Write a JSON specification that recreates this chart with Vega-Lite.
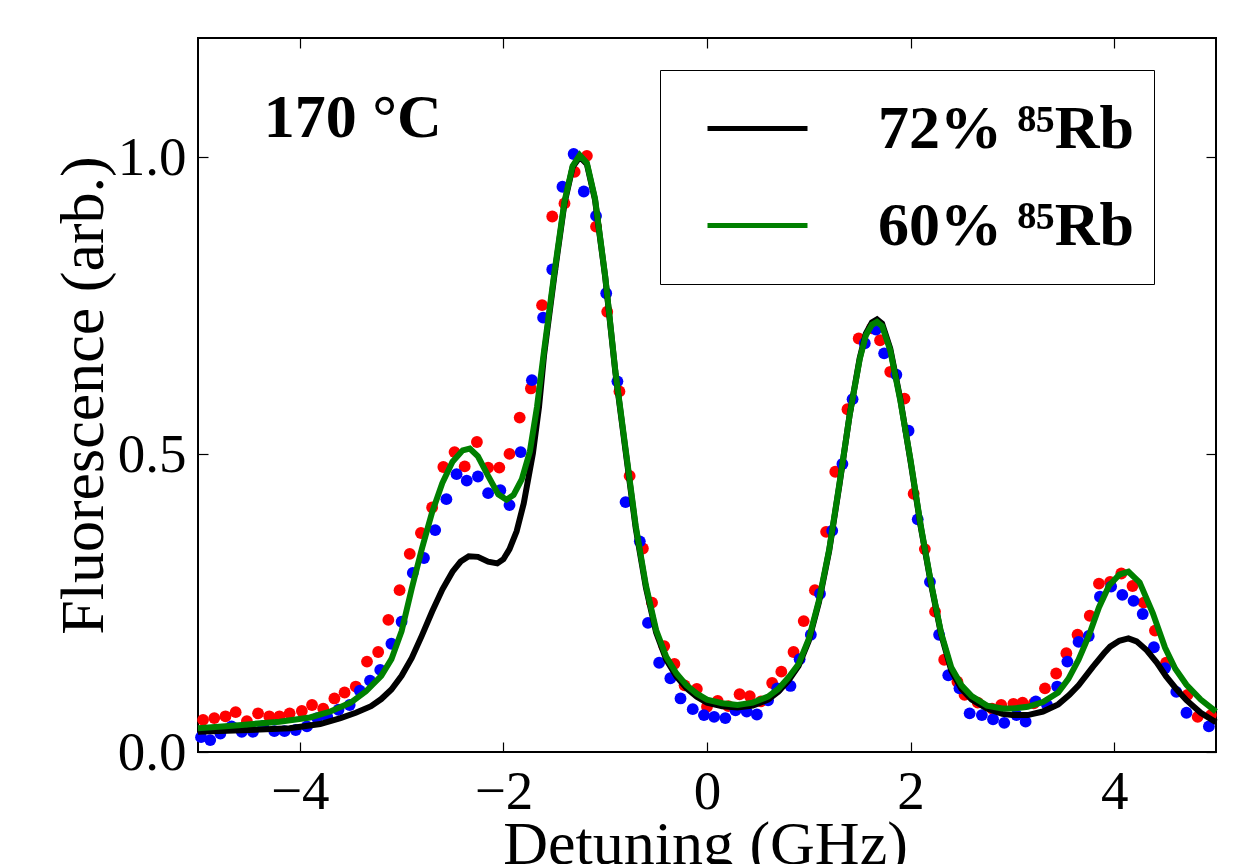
{
  "$schema": "https://vega.github.io/schema/vega-lite/v6.json",
  "width": 1018,
  "height": 714,
  "autosize": {"type": "none"},
  "padding": {"left": 198, "top": 38, "right": 26, "bottom": 112},
  "background": "white",
  "config": {
    "view": {"stroke": "black", "strokeWidth": 2},
    "axis": {
      "grid": false,
      "domain": false,
      "tickColor": "black",
      "tickWidth": 1.2,
      "tickSize": -10,
      "labelFont": "Liberation Serif",
      "labelFontSize": 55,
      "labelColor": "black",
      "titleFont": "Liberation Serif",
      "titleFontSize": 62,
      "titleFontWeight": "normal",
      "titleColor": "black"
    }
  },
  "resolve": {"scale": {"x": "independent", "y": "independent"}},
  "datasets": {
    "points": [
      {"m": "m1", "x": -4.95, "y": 0.054}, {"m": "m1", "x": -4.84, "y": 0.057}, {"m": "m1", "x": -4.73, "y": 0.06}, {"m": "m1", "x": -4.63, "y": 0.067},
      {"m": "m1", "x": -4.52, "y": 0.052}, {"m": "m1", "x": -4.41, "y": 0.065}, {"m": "m1", "x": -4.3, "y": 0.06}, {"m": "m1", "x": -4.2, "y": 0.06},
      {"m": "m1", "x": -4.1, "y": 0.065}, {"m": "m1", "x": -3.98, "y": 0.069}, {"m": "m1", "x": -3.88, "y": 0.079}, {"m": "m1", "x": -3.77, "y": 0.073},
      {"m": "m1", "x": -3.66, "y": 0.09}, {"m": "m1", "x": -3.56, "y": 0.1}, {"m": "m1", "x": -3.45, "y": 0.11}, {"m": "m1", "x": -3.34, "y": 0.152},
      {"m": "m1", "x": -3.23, "y": 0.168}, {"m": "m1", "x": -3.13, "y": 0.222}, {"m": "m1", "x": -3.02, "y": 0.272}, {"m": "m1", "x": -2.92, "y": 0.333},
      {"m": "m1", "x": -2.81, "y": 0.368}, {"m": "m1", "x": -2.7, "y": 0.411}, {"m": "m1", "x": -2.59, "y": 0.479}, {"m": "m1", "x": -2.48, "y": 0.504},
      {"m": "m1", "x": -2.38, "y": 0.48}, {"m": "m1", "x": -2.26, "y": 0.521}, {"m": "m1", "x": -2.15, "y": 0.478}, {"m": "m1", "x": -2.04, "y": 0.478},
      {"m": "m1", "x": -1.94, "y": 0.501}, {"m": "m1", "x": -1.84, "y": 0.562}, {"m": "m1", "x": -1.73, "y": 0.611}, {"m": "m1", "x": -1.62, "y": 0.751},
      {"m": "m1", "x": -1.52, "y": 0.9}, {"m": "m1", "x": -1.4, "y": 0.922}, {"m": "m1", "x": -1.3, "y": 0.975}, {"m": "m1", "x": -1.18, "y": 1.002},
      {"m": "m1", "x": -1.09, "y": 0.883}, {"m": "m1", "x": -0.98, "y": 0.74}, {"m": "m1", "x": -0.86, "y": 0.606}, {"m": "m1", "x": -0.76, "y": 0.464},
      {"m": "m1", "x": -0.63, "y": 0.342}, {"m": "m1", "x": -0.54, "y": 0.251}, {"m": "m1", "x": -0.42, "y": 0.178}, {"m": "m1", "x": -0.32, "y": 0.148},
      {"m": "m1", "x": -0.22, "y": 0.112}, {"m": "m1", "x": -0.1, "y": 0.106}, {"m": "m1", "x": 0.0, "y": 0.076}, {"m": "m1", "x": 0.105, "y": 0.086},
      {"m": "m1", "x": 0.21, "y": 0.077}, {"m": "m1", "x": 0.32, "y": 0.097}, {"m": "m1", "x": 0.42, "y": 0.094}, {"m": "m1", "x": 0.53, "y": 0.085},
      {"m": "m1", "x": 0.64, "y": 0.116}, {"m": "m1", "x": 0.73, "y": 0.135}, {"m": "m1", "x": 0.85, "y": 0.168}, {"m": "m1", "x": 0.95, "y": 0.22},
      {"m": "m1", "x": 1.06, "y": 0.272}, {"m": "m1", "x": 1.17, "y": 0.37}, {"m": "m1", "x": 1.26, "y": 0.471}, {"m": "m1", "x": 1.38, "y": 0.576},
      {"m": "m1", "x": 1.49, "y": 0.695}, {"m": "m1", "x": 1.62, "y": 0.712}, {"m": "m1", "x": 1.7, "y": 0.692}, {"m": "m1", "x": 1.8, "y": 0.639},
      {"m": "m1", "x": 1.94, "y": 0.594}, {"m": "m1", "x": 2.03, "y": 0.434}, {"m": "m1", "x": 2.14, "y": 0.341}, {"m": "m1", "x": 2.24, "y": 0.236},
      {"m": "m1", "x": 2.33, "y": 0.155}, {"m": "m1", "x": 2.46, "y": 0.118}, {"m": "m1", "x": 2.53, "y": 0.096}, {"m": "m1", "x": 2.66, "y": 0.083},
      {"m": "m1", "x": 2.8, "y": 0.073}, {"m": "m1", "x": 2.89, "y": 0.079}, {"m": "m1", "x": 3.01, "y": 0.081}, {"m": "m1", "x": 3.1, "y": 0.083},
      {"m": "m1", "x": 3.21, "y": 0.082}, {"m": "m1", "x": 3.32, "y": 0.107}, {"m": "m1", "x": 3.43, "y": 0.132}, {"m": "m1", "x": 3.53, "y": 0.166},
      {"m": "m1", "x": 3.64, "y": 0.197}, {"m": "m1", "x": 3.76, "y": 0.229}, {"m": "m1", "x": 3.85, "y": 0.283}, {"m": "m1", "x": 3.96, "y": 0.286},
      {"m": "m1", "x": 4.07, "y": 0.3}, {"m": "m1", "x": 4.18, "y": 0.279}, {"m": "m1", "x": 4.29, "y": 0.251}, {"m": "m1", "x": 4.4, "y": 0.204},
      {"m": "m1", "x": 4.51, "y": 0.15}, {"m": "m1", "x": 4.72, "y": 0.096}, {"m": "m1", "x": 4.82, "y": 0.059}, {"m": "m1", "x": 4.95, "y": 0.062},

      {"m": "m2", "x": -4.97, "y": 0.025}, {"m": "m2", "x": -4.88, "y": 0.02}, {"m": "m2", "x": -4.78, "y": 0.031}, {"m": "m2", "x": -4.67, "y": 0.043},
      {"m": "m2", "x": -4.57, "y": 0.034}, {"m": "m2", "x": -4.46, "y": 0.034}, {"m": "m2", "x": -4.36, "y": 0.044}, {"m": "m2", "x": -4.25, "y": 0.035},
      {"m": "m2", "x": -4.15, "y": 0.035}, {"m": "m2", "x": -4.04, "y": 0.037}, {"m": "m2", "x": -3.93, "y": 0.043}, {"m": "m2", "x": -3.83, "y": 0.057},
      {"m": "m2", "x": -3.73, "y": 0.059}, {"m": "m2", "x": -3.62, "y": 0.071}, {"m": "m2", "x": -3.51, "y": 0.079}, {"m": "m2", "x": -3.41, "y": 0.103},
      {"m": "m2", "x": -3.31, "y": 0.12}, {"m": "m2", "x": -3.21, "y": 0.138}, {"m": "m2", "x": -3.1, "y": 0.182}, {"m": "m2", "x": -3.0, "y": 0.219},
      {"m": "m2", "x": -2.89, "y": 0.301}, {"m": "m2", "x": -2.78, "y": 0.326}, {"m": "m2", "x": -2.67, "y": 0.373}, {"m": "m2", "x": -2.56, "y": 0.425},
      {"m": "m2", "x": -2.46, "y": 0.467}, {"m": "m2", "x": -2.36, "y": 0.456}, {"m": "m2", "x": -2.25, "y": 0.463}, {"m": "m2", "x": -2.15, "y": 0.435},
      {"m": "m2", "x": -2.03, "y": 0.44}, {"m": "m2", "x": -1.94, "y": 0.415}, {"m": "m2", "x": -1.83, "y": 0.504}, {"m": "m2", "x": -1.72, "y": 0.625},
      {"m": "m2", "x": -1.61, "y": 0.73}, {"m": "m2", "x": -1.52, "y": 0.811}, {"m": "m2", "x": -1.42, "y": 0.95}, {"m": "m2", "x": -1.31, "y": 1.005},
      {"m": "m2", "x": -1.21, "y": 0.942}, {"m": "m2", "x": -1.09, "y": 0.901}, {"m": "m2", "x": -0.99, "y": 0.771}, {"m": "m2", "x": -0.88, "y": 0.623},
      {"m": "m2", "x": -0.8, "y": 0.42}, {"m": "m2", "x": -0.66, "y": 0.354}, {"m": "m2", "x": -0.58, "y": 0.217}, {"m": "m2", "x": -0.47, "y": 0.15},
      {"m": "m2", "x": -0.36, "y": 0.124}, {"m": "m2", "x": -0.26, "y": 0.09}, {"m": "m2", "x": -0.14, "y": 0.072}, {"m": "m2", "x": -0.03, "y": 0.062},
      {"m": "m2", "x": 0.07, "y": 0.059}, {"m": "m2", "x": 0.18, "y": 0.057}, {"m": "m2", "x": 0.28, "y": 0.07}, {"m": "m2", "x": 0.39, "y": 0.068},
      {"m": "m2", "x": 0.49, "y": 0.063}, {"m": "m2", "x": 0.6, "y": 0.087}, {"m": "m2", "x": 0.69, "y": 0.107}, {"m": "m2", "x": 0.82, "y": 0.111},
      {"m": "m2", "x": 0.91, "y": 0.156}, {"m": "m2", "x": 1.02, "y": 0.197}, {"m": "m2", "x": 1.11, "y": 0.266}, {"m": "m2", "x": 1.23, "y": 0.372},
      {"m": "m2", "x": 1.33, "y": 0.484}, {"m": "m2", "x": 1.43, "y": 0.593}, {"m": "m2", "x": 1.55, "y": 0.687}, {"m": "m2", "x": 1.66, "y": 0.71},
      {"m": "m2", "x": 1.74, "y": 0.67}, {"m": "m2", "x": 1.86, "y": 0.634}, {"m": "m2", "x": 1.98, "y": 0.54}, {"m": "m2", "x": 2.07, "y": 0.391},
      {"m": "m2", "x": 2.19, "y": 0.286}, {"m": "m2", "x": 2.28, "y": 0.197}, {"m": "m2", "x": 2.37, "y": 0.129}, {"m": "m2", "x": 2.48, "y": 0.107},
      {"m": "m2", "x": 2.58, "y": 0.065}, {"m": "m2", "x": 2.7, "y": 0.062}, {"m": "m2", "x": 2.81, "y": 0.055}, {"m": "m2", "x": 2.92, "y": 0.049},
      {"m": "m2", "x": 3.04, "y": 0.062}, {"m": "m2", "x": 3.13, "y": 0.051}, {"m": "m2", "x": 3.23, "y": 0.085}, {"m": "m2", "x": 3.34, "y": 0.079},
      {"m": "m2", "x": 3.44, "y": 0.11}, {"m": "m2", "x": 3.54, "y": 0.152}, {"m": "m2", "x": 3.65, "y": 0.185}, {"m": "m2", "x": 3.75, "y": 0.195},
      {"m": "m2", "x": 3.86, "y": 0.261}, {"m": "m2", "x": 3.97, "y": 0.278}, {"m": "m2", "x": 4.08, "y": 0.264}, {"m": "m2", "x": 4.19, "y": 0.254},
      {"m": "m2", "x": 4.28, "y": 0.232}, {"m": "m2", "x": 4.39, "y": 0.176}, {"m": "m2", "x": 4.5, "y": 0.141}, {"m": "m2", "x": 4.61, "y": 0.101},
      {"m": "m2", "x": 4.71, "y": 0.066}, {"m": "m2", "x": 4.93, "y": 0.043}
    ],
    "black": [
      {"series": "72% ⁸⁵Rb", "x": -5.0, "y": 0.034}, {"series": "72% ⁸⁵Rb", "x": -4.5, "y": 0.037}, {"series": "72% ⁸⁵Rb", "x": -4.1, "y": 0.04},
      {"series": "72% ⁸⁵Rb", "x": -3.8, "y": 0.047}, {"series": "72% ⁸⁵Rb", "x": -3.6, "y": 0.057}, {"series": "72% ⁸⁵Rb", "x": -3.45, "y": 0.066},
      {"series": "72% ⁸⁵Rb", "x": -3.3, "y": 0.077}, {"series": "72% ⁸⁵Rb", "x": -3.2, "y": 0.089}, {"series": "72% ⁸⁵Rb", "x": -3.1, "y": 0.105},
      {"series": "72% ⁸⁵Rb", "x": -3.0, "y": 0.128}, {"series": "72% ⁸⁵Rb", "x": -2.9, "y": 0.158}, {"series": "72% ⁸⁵Rb", "x": -2.8, "y": 0.196},
      {"series": "72% ⁸⁵Rb", "x": -2.7, "y": 0.236}, {"series": "72% ⁸⁵Rb", "x": -2.6, "y": 0.273}, {"series": "72% ⁸⁵Rb", "x": -2.5, "y": 0.303},
      {"series": "72% ⁸⁵Rb", "x": -2.42, "y": 0.32}, {"series": "72% ⁸⁵Rb", "x": -2.34, "y": 0.329}, {"series": "72% ⁸⁵Rb", "x": -2.25, "y": 0.328},
      {"series": "72% ⁸⁵Rb", "x": -2.15, "y": 0.32}, {"series": "72% ⁸⁵Rb", "x": -2.06, "y": 0.317}, {"series": "72% ⁸⁵Rb", "x": -2.0, "y": 0.324},
      {"series": "72% ⁸⁵Rb", "x": -1.94, "y": 0.341}, {"series": "72% ⁸⁵Rb", "x": -1.87, "y": 0.371}, {"series": "72% ⁸⁵Rb", "x": -1.8, "y": 0.418},
      {"series": "72% ⁸⁵Rb", "x": -1.71, "y": 0.502}, {"series": "72% ⁸⁵Rb", "x": -1.65, "y": 0.58}, {"series": "72% ⁸⁵Rb", "x": -1.6, "y": 0.668},
      {"series": "72% ⁸⁵Rb", "x": -1.5, "y": 0.8}, {"series": "72% ⁸⁵Rb", "x": -1.4, "y": 0.922}, {"series": "72% ⁸⁵Rb", "x": -1.32, "y": 0.983},
      {"series": "72% ⁸⁵Rb", "x": -1.25, "y": 1.0}, {"series": "72% ⁸⁵Rb", "x": -1.18, "y": 0.988}, {"series": "72% ⁸⁵Rb", "x": -1.1, "y": 0.928},
      {"series": "72% ⁸⁵Rb", "x": -1.0, "y": 0.798}, {"series": "72% ⁸⁵Rb", "x": -0.9, "y": 0.638}, {"series": "72% ⁸⁵Rb", "x": -0.8, "y": 0.506},
      {"series": "72% ⁸⁵Rb", "x": -0.7, "y": 0.376}, {"series": "72% ⁸⁵Rb", "x": -0.6, "y": 0.276}, {"series": "72% ⁸⁵Rb", "x": -0.5, "y": 0.201},
      {"series": "72% ⁸⁵Rb", "x": -0.4, "y": 0.155}, {"series": "72% ⁸⁵Rb", "x": -0.3, "y": 0.127}, {"series": "72% ⁸⁵Rb", "x": -0.2, "y": 0.107},
      {"series": "72% ⁸⁵Rb", "x": -0.1, "y": 0.093}, {"series": "72% ⁸⁵Rb", "x": 0.0, "y": 0.083}, {"series": "72% ⁸⁵Rb", "x": 0.15, "y": 0.077},
      {"series": "72% ⁸⁵Rb", "x": 0.3, "y": 0.075}, {"series": "72% ⁸⁵Rb", "x": 0.45, "y": 0.078}, {"series": "72% ⁸⁵Rb", "x": 0.6, "y": 0.088},
      {"series": "72% ⁸⁵Rb", "x": 0.7, "y": 0.101}, {"series": "72% ⁸⁵Rb", "x": 0.8, "y": 0.12}, {"series": "72% ⁸⁵Rb", "x": 0.9, "y": 0.145},
      {"series": "72% ⁸⁵Rb", "x": 1.0, "y": 0.187}, {"series": "72% ⁸⁵Rb", "x": 1.1, "y": 0.252}, {"series": "72% ⁸⁵Rb", "x": 1.2, "y": 0.338},
      {"series": "72% ⁸⁵Rb", "x": 1.3, "y": 0.448}, {"series": "72% ⁸⁵Rb", "x": 1.4, "y": 0.565}, {"series": "72% ⁸⁵Rb", "x": 1.5, "y": 0.662},
      {"series": "72% ⁸⁵Rb", "x": 1.56, "y": 0.703}, {"series": "72% ⁸⁵Rb", "x": 1.62, "y": 0.722}, {"series": "72% ⁸⁵Rb", "x": 1.67, "y": 0.727},
      {"series": "72% ⁸⁵Rb", "x": 1.72, "y": 0.72}, {"series": "72% ⁸⁵Rb", "x": 1.8, "y": 0.678}, {"series": "72% ⁸⁵Rb", "x": 1.9, "y": 0.592},
      {"series": "72% ⁸⁵Rb", "x": 2.0, "y": 0.488}, {"series": "72% ⁸⁵Rb", "x": 2.1, "y": 0.378}, {"series": "72% ⁸⁵Rb", "x": 2.2, "y": 0.283},
      {"series": "72% ⁸⁵Rb", "x": 2.3, "y": 0.198}, {"series": "72% ⁸⁵Rb", "x": 2.4, "y": 0.137}, {"series": "72% ⁸⁵Rb", "x": 2.5, "y": 0.106},
      {"series": "72% ⁸⁵Rb", "x": 2.6, "y": 0.088}, {"series": "72% ⁸⁵Rb", "x": 2.75, "y": 0.073}, {"series": "72% ⁸⁵Rb", "x": 2.9, "y": 0.064},
      {"series": "72% ⁸⁵Rb", "x": 3.0, "y": 0.062}, {"series": "72% ⁸⁵Rb", "x": 3.15, "y": 0.062}, {"series": "72% ⁸⁵Rb", "x": 3.3, "y": 0.068},
      {"series": "72% ⁸⁵Rb", "x": 3.45, "y": 0.08}, {"series": "72% ⁸⁵Rb", "x": 3.56, "y": 0.096}, {"series": "72% ⁸⁵Rb", "x": 3.65, "y": 0.112},
      {"series": "72% ⁸⁵Rb", "x": 3.79, "y": 0.143}, {"series": "72% ⁸⁵Rb", "x": 3.9, "y": 0.166}, {"series": "72% ⁸⁵Rb", "x": 3.96, "y": 0.177},
      {"series": "72% ⁸⁵Rb", "x": 4.05, "y": 0.187}, {"series": "72% ⁸⁵Rb", "x": 4.14, "y": 0.191}, {"series": "72% ⁸⁵Rb", "x": 4.22, "y": 0.186},
      {"series": "72% ⁸⁵Rb", "x": 4.32, "y": 0.171}, {"series": "72% ⁸⁵Rb", "x": 4.42, "y": 0.15}, {"series": "72% ⁸⁵Rb", "x": 4.51, "y": 0.127},
      {"series": "72% ⁸⁵Rb", "x": 4.61, "y": 0.106}, {"series": "72% ⁸⁵Rb", "x": 4.71, "y": 0.087}, {"series": "72% ⁸⁵Rb", "x": 4.85, "y": 0.066},
      {"series": "72% ⁸⁵Rb", "x": 5.0, "y": 0.05}
    ],
    "green": [
      {"series": "60% ⁸⁵Rb", "x": -5.0, "y": 0.04}, {"series": "60% ⁸⁵Rb", "x": -4.6, "y": 0.045}, {"series": "60% ⁸⁵Rb", "x": -4.2, "y": 0.051},
      {"series": "60% ⁸⁵Rb", "x": -3.9, "y": 0.058}, {"series": "60% ⁸⁵Rb", "x": -3.7, "y": 0.068}, {"series": "60% ⁸⁵Rb", "x": -3.5, "y": 0.083},
      {"series": "60% ⁸⁵Rb", "x": -3.35, "y": 0.102}, {"series": "60% ⁸⁵Rb", "x": -3.2, "y": 0.128}, {"series": "60% ⁸⁵Rb", "x": -3.1, "y": 0.156},
      {"series": "60% ⁸⁵Rb", "x": -3.0, "y": 0.203}, {"series": "60% ⁸⁵Rb", "x": -2.9, "y": 0.275}, {"series": "60% ⁸⁵Rb", "x": -2.8, "y": 0.342},
      {"series": "60% ⁸⁵Rb", "x": -2.7, "y": 0.403}, {"series": "60% ⁸⁵Rb", "x": -2.6, "y": 0.452}, {"series": "60% ⁸⁵Rb", "x": -2.5, "y": 0.488},
      {"series": "60% ⁸⁵Rb", "x": -2.4, "y": 0.507}, {"series": "60% ⁸⁵Rb", "x": -2.33, "y": 0.51}, {"series": "60% ⁸⁵Rb", "x": -2.25, "y": 0.497},
      {"series": "60% ⁸⁵Rb", "x": -2.15, "y": 0.464}, {"series": "60% ⁸⁵Rb", "x": -2.05, "y": 0.433}, {"series": "60% ⁸⁵Rb", "x": -1.97, "y": 0.424},
      {"series": "60% ⁸⁵Rb", "x": -1.9, "y": 0.432}, {"series": "60% ⁸⁵Rb", "x": -1.82, "y": 0.458}, {"series": "60% ⁸⁵Rb", "x": -1.74, "y": 0.505},
      {"series": "60% ⁸⁵Rb", "x": -1.67, "y": 0.58}, {"series": "60% ⁸⁵Rb", "x": -1.6, "y": 0.675}, {"series": "60% ⁸⁵Rb", "x": -1.5, "y": 0.805},
      {"series": "60% ⁸⁵Rb", "x": -1.4, "y": 0.925}, {"series": "60% ⁸⁵Rb", "x": -1.32, "y": 0.985}, {"series": "60% ⁸⁵Rb", "x": -1.25, "y": 1.003},
      {"series": "60% ⁸⁵Rb", "x": -1.18, "y": 0.99}, {"series": "60% ⁸⁵Rb", "x": -1.1, "y": 0.93}, {"series": "60% ⁸⁵Rb", "x": -1.0, "y": 0.8},
      {"series": "60% ⁸⁵Rb", "x": -0.9, "y": 0.64}, {"series": "60% ⁸⁵Rb", "x": -0.8, "y": 0.51}, {"series": "60% ⁸⁵Rb", "x": -0.7, "y": 0.38},
      {"series": "60% ⁸⁵Rb", "x": -0.6, "y": 0.28}, {"series": "60% ⁸⁵Rb", "x": -0.5, "y": 0.205}, {"series": "60% ⁸⁵Rb", "x": -0.4, "y": 0.16},
      {"series": "60% ⁸⁵Rb", "x": -0.3, "y": 0.132}, {"series": "60% ⁸⁵Rb", "x": -0.2, "y": 0.112}, {"series": "60% ⁸⁵Rb", "x": -0.1, "y": 0.098},
      {"series": "60% ⁸⁵Rb", "x": 0.0, "y": 0.088}, {"series": "60% ⁸⁵Rb", "x": 0.15, "y": 0.082}, {"series": "60% ⁸⁵Rb", "x": 0.3, "y": 0.079},
      {"series": "60% ⁸⁵Rb", "x": 0.45, "y": 0.083}, {"series": "60% ⁸⁵Rb", "x": 0.6, "y": 0.093}, {"series": "60% ⁸⁵Rb", "x": 0.7, "y": 0.106},
      {"series": "60% ⁸⁵Rb", "x": 0.8, "y": 0.125}, {"series": "60% ⁸⁵Rb", "x": 0.9, "y": 0.148}, {"series": "60% ⁸⁵Rb", "x": 1.0, "y": 0.19},
      {"series": "60% ⁸⁵Rb", "x": 1.1, "y": 0.255}, {"series": "60% ⁸⁵Rb", "x": 1.2, "y": 0.34}, {"series": "60% ⁸⁵Rb", "x": 1.3, "y": 0.45},
      {"series": "60% ⁸⁵Rb", "x": 1.4, "y": 0.565}, {"series": "60% ⁸⁵Rb", "x": 1.5, "y": 0.66}, {"series": "60% ⁸⁵Rb", "x": 1.56, "y": 0.7},
      {"series": "60% ⁸⁵Rb", "x": 1.62, "y": 0.718}, {"series": "60% ⁸⁵Rb", "x": 1.67, "y": 0.723}, {"series": "60% ⁸⁵Rb", "x": 1.72, "y": 0.716},
      {"series": "60% ⁸⁵Rb", "x": 1.8, "y": 0.675}, {"series": "60% ⁸⁵Rb", "x": 1.9, "y": 0.59}, {"series": "60% ⁸⁵Rb", "x": 2.0, "y": 0.49},
      {"series": "60% ⁸⁵Rb", "x": 2.1, "y": 0.38}, {"series": "60% ⁸⁵Rb", "x": 2.2, "y": 0.285}, {"series": "60% ⁸⁵Rb", "x": 2.3, "y": 0.2},
      {"series": "60% ⁸⁵Rb", "x": 2.4, "y": 0.142}, {"series": "60% ⁸⁵Rb", "x": 2.5, "y": 0.112}, {"series": "60% ⁸⁵Rb", "x": 2.6, "y": 0.094},
      {"series": "60% ⁸⁵Rb", "x": 2.75, "y": 0.078}, {"series": "60% ⁸⁵Rb", "x": 2.9, "y": 0.073}, {"series": "60% ⁸⁵Rb", "x": 3.0, "y": 0.073},
      {"series": "60% ⁸⁵Rb", "x": 3.15, "y": 0.076}, {"series": "60% ⁸⁵Rb", "x": 3.3, "y": 0.084}, {"series": "60% ⁸⁵Rb", "x": 3.45, "y": 0.1},
      {"series": "60% ⁸⁵Rb", "x": 3.55, "y": 0.123}, {"series": "60% ⁸⁵Rb", "x": 3.65, "y": 0.155}, {"series": "60% ⁸⁵Rb", "x": 3.75, "y": 0.195},
      {"series": "60% ⁸⁵Rb", "x": 3.85, "y": 0.243}, {"series": "60% ⁸⁵Rb", "x": 3.95, "y": 0.28}, {"series": "60% ⁸⁵Rb", "x": 4.05, "y": 0.298},
      {"series": "60% ⁸⁵Rb", "x": 4.14, "y": 0.303}, {"series": "60% ⁸⁵Rb", "x": 4.25, "y": 0.285}, {"series": "60% ⁸⁵Rb", "x": 4.38, "y": 0.233},
      {"series": "60% ⁸⁵Rb", "x": 4.5, "y": 0.175}, {"series": "60% ⁸⁵Rb", "x": 4.6, "y": 0.14}, {"series": "60% ⁸⁵Rb", "x": 4.71, "y": 0.113},
      {"series": "60% ⁸⁵Rb", "x": 4.85, "y": 0.088}, {"series": "60% ⁸⁵Rb", "x": 5.0, "y": 0.068}
    ],
    "note": [{"label": "170 °C", "x": -3.48, "y": 1.034}]
  },
  "layer": [
    {
      "data": {"name": "points"},
      "transform": [{"filter": "datum.m === 'm1'"}],
      "mark": {"type": "circle", "color": "#ff0000", "size": 140, "opacity": 1},
      "encoding": {
        "x": {"field": "x", "type": "quantitative", "scale": {"domain": [-5, 5], "nice": false, "zero": false},
          "axis": {"orient": "bottom", "values": [-4, -2, 0, 2, 4], "format": "d", "labelPadding": 23, "title": "Detuning (GHz)",
            "titleX": 507, "titleY": 111, "titleAlign": "center", "titleBaseline": "alphabetic"}},
        "y": {"field": "y", "type": "quantitative", "scale": {"domain": [0, 1.2], "nice": false, "zero": false},
          "axis": {"orient": "left", "values": [0, 0.5, 1], "format": ".1f", "labelPadding": 22, "title": "Fluorescence (arb.)",
            "titleX": -96, "titleY": 357, "titleAngle": -90, "titleAlign": "center", "titleBaseline": "alphabetic"}}
      }
    },
    {
      "data": {"name": "points"},
      "transform": [{"filter": "datum.m === 'm2'"}],
      "mark": {"type": "circle", "color": "#0000ff", "size": 140, "opacity": 1},
      "encoding": {
        "x": {"field": "x", "type": "quantitative", "scale": {"domain": [-5, 5], "nice": false, "zero": false}, "axis": null},
        "y": {"field": "y", "type": "quantitative", "scale": {"domain": [0, 1.2], "nice": false, "zero": false}, "axis": null}
      }
    },
    {
      "data": {"name": "black"},
      "mark": {"type": "line", "strokeWidth": 6},
      "encoding": {
        "x": {"field": "x", "type": "quantitative", "scale": {"domain": [-5, 5], "nice": false, "zero": false}, "axis": null},
        "y": {"field": "y", "type": "quantitative", "scale": {"domain": [0, 1.2], "nice": false, "zero": false}, "axis": null},
        "color": {"field": "series", "type": "nominal",
          "scale": {"domain": ["72% ⁸⁵Rb", "60% ⁸⁵Rb"], "range": ["#000000", "#008000"]},
          "legend": {"orient": "none", "legendX": 462, "legendY": 32, "title": " ", "titleOrient": "right", "titleFontSize": 20, "titlePadding": 10,
            "symbolType": "stroke", "symbolSize": 10000,
            "symbolStrokeWidth": 5, "symbolOffset": 35, "labelOffset": 68, "labelFont": "Liberation Serif", "labelFontSize": 62,
            "labelFontWeight": "bold", "labelColor": "black", "padding": 10, "clipHeight": 97, "strokeColor": "black", "fillColor": "white", "rowPadding": 0, "labelLimit": 0}}
      }
    },
    {
      "data": {"name": "green"},
      "mark": {"type": "line", "strokeWidth": 6},
      "encoding": {
        "x": {"field": "x", "type": "quantitative", "scale": {"domain": [-5, 5], "nice": false, "zero": false}, "axis": null},
        "y": {"field": "y", "type": "quantitative", "scale": {"domain": [0, 1.2], "nice": false, "zero": false}, "axis": null},
        "color": {"field": "series", "type": "nominal"}
      }
    },
    {
      "data": {"name": "note"},
      "mark": {"type": "text", "font": "Liberation Serif", "fontSize": 62, "fontWeight": "bold", "align": "center", "baseline": "alphabetic", "color": "black"},
      "encoding": {
        "x": {"field": "x", "type": "quantitative", "scale": {"domain": [-5, 5], "nice": false, "zero": false},
          "axis": {"orient": "top", "values": [-4, -2, 0, 2, 4], "labels": false, "title": null}},
        "y": {"field": "y", "type": "quantitative", "scale": {"domain": [0, 1.2], "nice": false, "zero": false},
          "axis": {"orient": "right", "values": [0, 0.5, 1], "labels": false, "title": null}},
        "text": {"field": "label"}
      }
    }
  ]
}
